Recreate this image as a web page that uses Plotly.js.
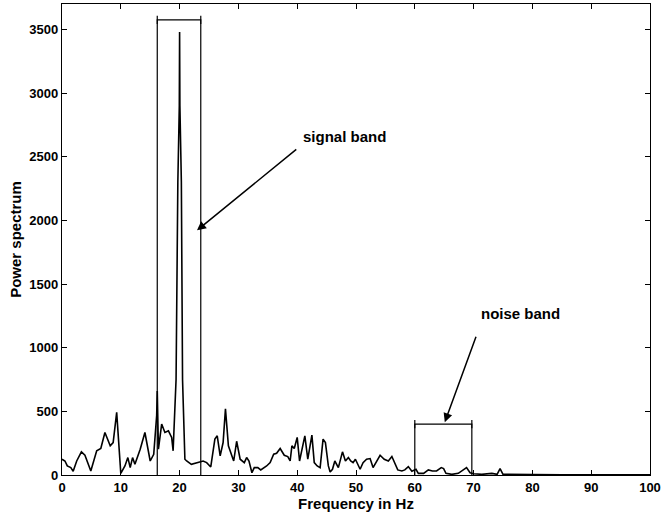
<!DOCTYPE html>
<html>
<head>
<meta charset="utf-8">
<script src="https://cdn.plot.ly/plotly-3.0.1.min.js"></script>
<style>html,body{margin:0;padding:0;background:#fff;}#chart{width:661px;height:517px;}</style>
</head>
<body>
<div id="chart"></div>
<script>
// Power spectrum samples (frequency in Hz, power)
var freq = [0.0,0.5,0.9,1.5,1.9,2.5,3.3,3.9,4.9,5.9,6.6,7.3,8.2,8.7,9.3,10.0,10.7,11.2,11.6,12.0,12.4,13.3,14.1,15.0,15.6,16.1,16.2,16.4,16.95,17.5,18.1,18.65,18.9,19.4,19.7,19.95,20.0,20.05,20.3,20.5,20.9,21.2,22.0,23.2,24.0,24.6,25.3,26.0,26.4,26.9,27.4,27.8,28.3,28.9,29.2,29.7,30.3,31.0,31.4,31.8,32.3,32.7,33.3,33.8,34.8,35.4,36.0,36.5,37.1,37.8,38.4,38.8,39.1,39.5,40.0,40.4,41.0,41.3,41.8,42.5,42.9,43.4,43.9,44.4,44.8,45.3,45.6,46.0,46.4,47.0,47.7,48.2,48.7,49.1,49.5,49.9,50.7,51.2,51.8,52.4,52.9,53.5,54.1,54.8,55.5,56.1,56.6,57.1,57.8,58.3,58.9,59.5,60.2,60.6,61.5,62.3,63.0,63.7,64.5,64.9,65.3,66.3,67.4,68.3,68.8,69.4,70.0,71.4,73.1,74.0,74.5,75.0,76.5,80.0,85.0,90.0,95.0,100.0];
var power = [124,110,71,58,29,110,182,155,32,190,208,334,229,255,492,13,71,137,58,137,84,203,334,110,163,466,660,203,400,334,347,295,190,750,2300,2900,3480,2900,2300,750,124,110,84,97,110,97,63,282,308,150,255,519,229,150,110,265,124,97,137,110,18,58,58,40,71,97,163,171,208,155,145,110,229,208,295,110,242,308,124,313,97,71,58,282,255,71,24,45,110,58,182,110,137,110,97,124,45,97,124,129,58,110,155,124,110,145,97,40,32,40,66,30,45,13,13,40,32,32,58,50,13,5,13,45,58,18,10,5,13,5,50,5,3,3,2,3,2,2];

// Bands: [low Hz, high Hz, bracket height]
var signalBand = [16.2, 23.6, 3575];
var noiseBand = [60.0, 69.7, 400];

// Annotation labels
var bandLabels = ["signal band", "noise band"];
var xTicks = [0,10,20,30,40,50,60,70,80,90,100];
var yTicks = [0,500,1000,1500,2000,2500,3000,3500];

var FONT = "Liberation Sans, Arial, Helvetica, sans-serif";

function bandTrace(b) {
  return {
    x: [b[0], b[0], b[1], b[1]],
    y: [0, b[2], b[2], 0],
    mode: "lines",
    line: {color: "#000", width: 1.2},
    hoverinfo: "skip", showlegend: false
  };
}
function capTrace(b) {
  return {
    x: [b[0], b[1]],
    y: [b[2], b[2]],
    mode: "markers",
    marker: {symbol: "line-ns", size: 6, line: {color: "#000", width: 1.2}},
    hoverinfo: "skip", showlegend: false
  };
}

var traces = [
  {x: freq, y: power, mode: "lines", line: {color: "#000", width: 1.6}, showlegend: false},
  bandTrace(signalBand), capTrace(signalBand),
  bandTrace(noiseBand), capTrace(noiseBand)
];

var layout = {
  width: 661, height: 517,
  margin: {l: 62, r: 11, t: 4, b: 42},
  paper_bgcolor: "#fff", plot_bgcolor: "#fff",
  font: {family: FONT, size: 13, color: "#000", weight: "bold"},
  xaxis: {
    range: [0, 100], tickvals: xTicks, ticks: "inside", ticklen: 5, tickcolor: "#000",
    showline: true, linecolor: "#000", linewidth: 1.2, mirror: "ticks",
    showgrid: false, zeroline: false,
    tickfont: {family: FONT, size: 13, weight: "bold"},
    title: {text: "Frequency in Hz", font: {family: FONT, size: 15, weight: "bold"}, standoff: 4}
  },
  yaxis: {
    range: [0, 3700], tickvals: yTicks, ticks: "inside", ticklen: 5, tickcolor: "#000",
    showline: true, linecolor: "#000", linewidth: 1.2, mirror: "ticks",
    showgrid: false, zeroline: false,
    tickfont: {family: FONT, size: 13, weight: "bold"},
    title: {text: "Power spectrum", font: {family: FONT, size: 15, weight: "bold"}, standoff: 4}
  },
  annotations: [
    {x: 22.96, y: 1922, ax: 40.1, ay: 2567, xref: "x", yref: "y", axref: "x", ayref: "y",
     text: "", showarrow: true, arrowhead: 2, arrowsize: 1.2, arrowwidth: 1.5, arrowcolor: "#000"},
    {x: 48.1, y: 2660, xref: "x", yref: "y", text: bandLabels[0], showarrow: false,
     font: {family: FONT, size: 15, weight: "bold"}},
    {x: 65.1, y: 415, ax: 70.5, ay: 1097, xref: "x", yref: "y", axref: "x", ayref: "y",
     text: "", showarrow: true, arrowhead: 2, arrowsize: 1.2, arrowwidth: 1.5, arrowcolor: "#000"},
    {x: 77.9, y: 1270, xref: "x", yref: "y", text: bandLabels[1], showarrow: false,
     font: {family: FONT, size: 15, weight: "bold"}}
  ]
};

Plotly.newPlot("chart", traces, layout, {displayModeBar: false, staticPlot: true});
</script>
</body>
</html>
